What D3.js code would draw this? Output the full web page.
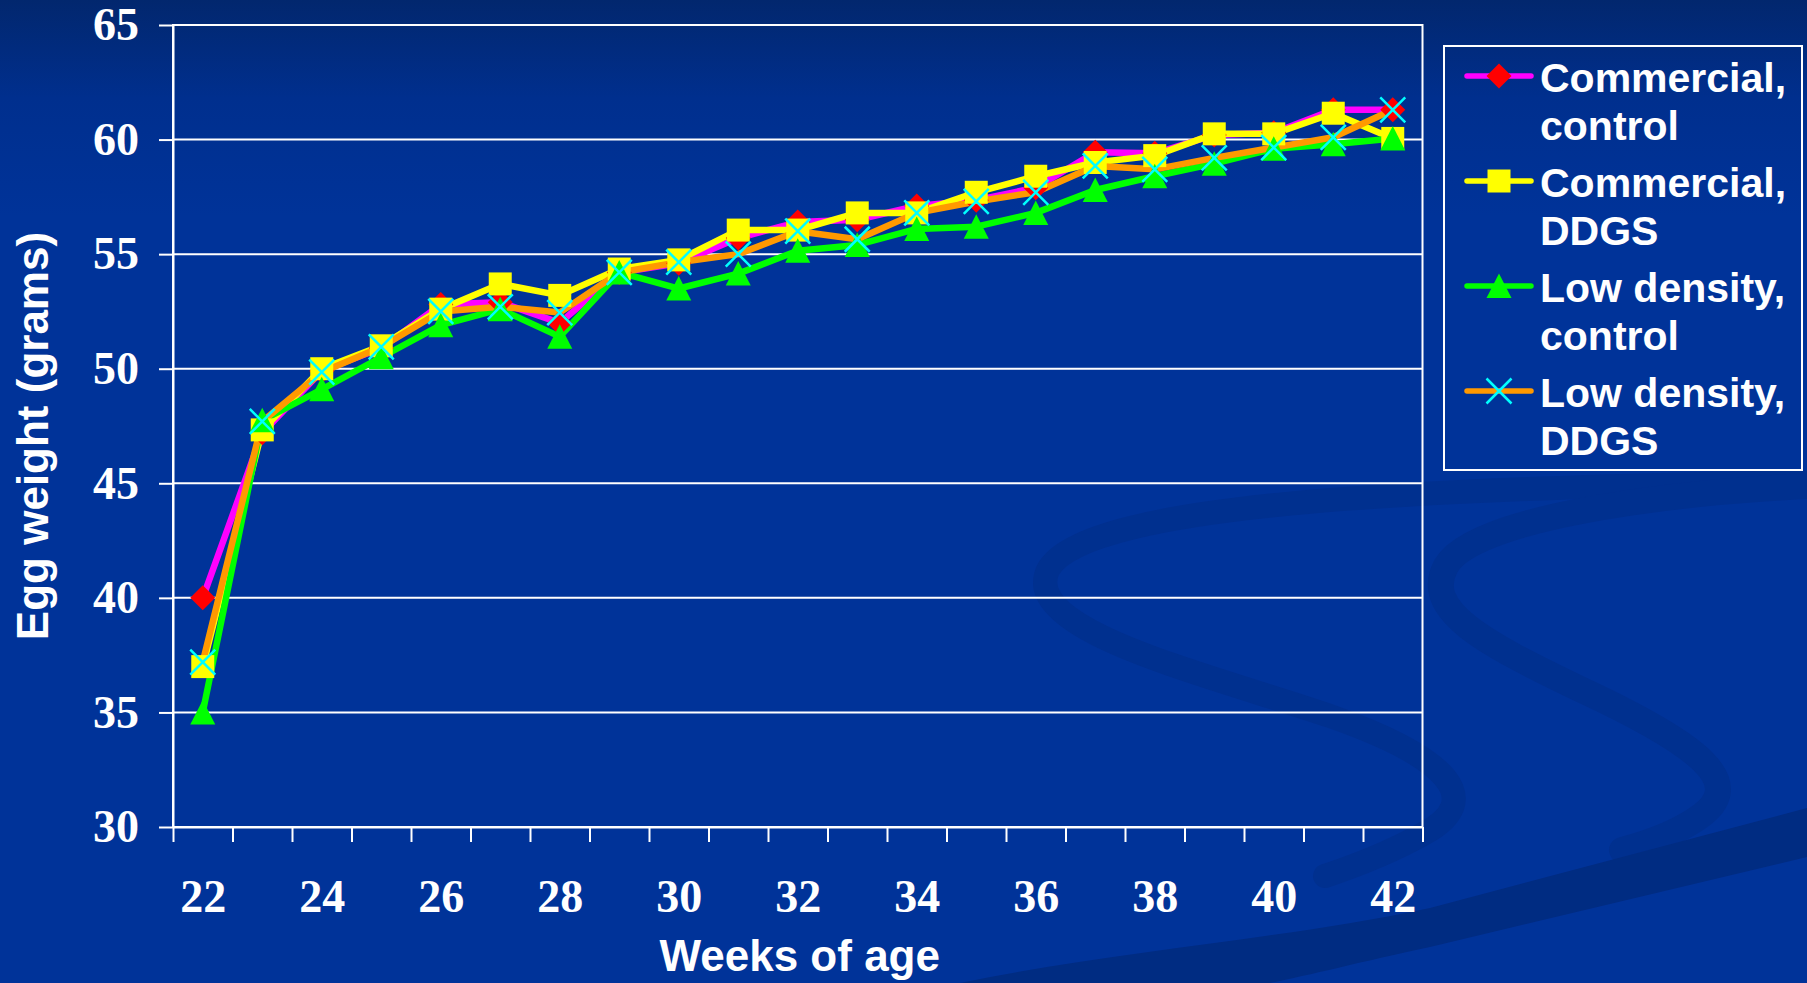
<!DOCTYPE html>
<html>
<head>
<meta charset="utf-8">
<script src="https://cdn.jsdelivr.net/npm/d3@7"></script>
<style>
  body { margin: 0; background: #003399; overflow: hidden; }
  svg { display: block; }
</style>
</head>
<body>
<svg width="1807" height="983"></svg>
<script>
// weeks of age on the category axis
var weeks = [22, 23, 24, 25, 26, 27, 28, 29, 30, 31, 32, 33, 34, 35, 36, 37, 38, 39, 40, 41, 42];
var weekLabels = [22, 24, 26, 28, 30, 32, 34, 36, 38, 40, 42];
var yTicks = [30, 35, 40, 45, 50, 55, 60, 65];

var seriesNames = ['Commercial, control', 'Commercial, DDGS', 'Low density, control', 'Low density, DDGS'];

// egg weight (grams)
var commercialControl = [40.0, 47.2, 49.9, 50.9, 52.8, 52.9, 52.0, 54.2, 54.6, 55.7, 56.4, 56.5, 57.1, 57.35, 57.9, 59.45, 59.4, 60.2, 60.3, 61.3, 61.3];
var commercialDDGS    = [37.0, 47.33, 50.0, 51.0, 52.6, 53.7, 53.2, 54.35, 54.75, 56.05, 56.05, 56.8, 56.8, 57.7, 58.4, 59.0, 59.3, 60.25, 60.25, 61.15, 60.05];
var lowControl        = [35.0, 47.75, 49.1, 50.5, 51.9, 52.6, 51.4, 54.2, 53.5, 54.15, 55.15, 55.4, 56.1, 56.2, 56.8, 57.8, 58.4, 58.95, 59.6, 59.8, 60.05];
var lowDDGS           = [37.2, 47.7, 49.85, 50.95, 52.5, 52.7, 52.45, 54.2, 54.65, 55.0, 56.0, 55.65, 56.8, 57.3, 57.7, 58.85, 58.7, 59.2, 59.65, 60.1, 61.3];

var lineColors = ['#ff00ff', '#ffff00', '#00ff00', '#ff9900'];
var markerTypes = ['diamond', 'square', 'triangle', 'x'];

var series = [commercialControl, commercialDDGS, lowControl, lowDDGS].map(function(vals, i) {
  return {
    name: seriesNames[i],
    color: lineColors[i],
    marker: markerTypes[i],
    values: vals.map(function(v, j) { return { week: weeks[j], v: v }; })
  };
});

var plotL = 173, plotR = 1422.5, plotT = 25, plotB = 827;
var serif = '"Liberation Serif", "Times New Roman", serif';
var sans = '"Liberation Sans", Arial, sans-serif';

const svg = d3.select('svg');

// background with the darker swooshes of the slide template
var defs = svg.append('defs');
var grad = defs.append('linearGradient').attr('id', 'bg').attr('x1', 0).attr('y1', 0).attr('x2', 0).attr('y2', 1);
grad.append('stop').attr('offset', '0%').attr('stop-color', '#02276e');
grad.append('stop').attr('offset', '10%').attr('stop-color', '#002f8e');
grad.append('stop').attr('offset', '22%').attr('stop-color', '#003399');
grad.append('stop').attr('offset', '100%').attr('stop-color', '#003399');
svg.append('rect').attr('width', 1807).attr('height', 983).attr('fill', 'url(#bg)');

var deco = svg.append('g').attr('class', 'deco').attr('fill', 'none').attr('stroke-linecap', 'round');
deco.append('path')
  .attr('d', 'M1807,482 C1450,488 1085,500 1048,570 C1020,630 1200,672 1330,716 C1450,758 1485,800 1425,833 C1395,850 1355,866 1325,876')
  .attr('stroke', '#00308f').attr('stroke-width', 24);
deco.append('path')
  .attr('d', 'M1807,486 C1650,494 1472,520 1446,566 C1422,610 1482,642 1582,690 C1700,745 1745,782 1702,815 C1682,830 1652,842 1622,850')
  .attr('stroke', '#00308f').attr('stroke-width', 26);
deco.append('path')
  .attr('d', 'M960,983 C1120,950 1280,940 1430,908 L1807,808 L1807,857 L1430,947 C1360,962 1310,975 1270,983 Z')
  .attr('fill', '#002c82').attr('stroke', 'none');

const g = svg.append('g');

var x = d3.scaleLinear().domain([weeks[0] - 0.5, weeks[weeks.length - 1] + 0.5]).range([plotL, plotR]);
var y = d3.scaleLinear().domain([30, 65]).range([plotB, plotT]);

// gridlines
g.append('g')
  .attr('class', 'grid')
  .selectAll('line')
  .data(yTicks)
  .enter().append('line')
  .attr('x1', plotL).attr('x2', plotR)
  .attr('y1', function(d) { return y(d); })
  .attr('y2', function(d) { return y(d); })
  .style('stroke', '#ffffff')
  .style('stroke-width', 2);

g.append('rect')
  .attr('x', plotL).attr('y', plotT)
  .attr('width', plotR - plotL).attr('height', plotB - plotT)
  .attr('fill', 'none').attr('stroke', '#ffffff').attr('stroke-width', 2);

// y axis
var yAxis = g.append('g')
  .attr('transform', 'translate(' + plotL + ',0)')
  .call(d3.axisLeft(y).tickValues(yTicks).tickSize(14).tickSizeOuter(0).tickPadding(20));

// x axis: ticks between categories, labels on every other week
var edges = weeks.map(function(w) { return w - 0.5; }).concat([weeks[weeks.length - 1] + 0.5]);
var xTicks = g.append('g')
  .attr('transform', 'translate(0,' + plotB + ')')
  .call(d3.axisBottom(x).tickValues(edges).tickSize(15).tickSizeOuter(0).tickFormat(''));
var xLabels = g.append('g')
  .attr('transform', 'translate(0,' + plotB + ')')
  .call(d3.axisBottom(x).tickValues(weekLabels).tickSize(0).tickPadding(52));
xLabels.select('.domain').remove();

[yAxis, xTicks, xLabels].forEach(function(a) {
  a.selectAll('path, line').style('stroke', '#ffffff').style('stroke-width', 2);
  a.selectAll('text')
    .style('fill', '#ffffff')
    .style('font-family', serif)
    .style('font-weight', 'bold')
    .style('font-size', '46px');
});

// axis titles
g.append('text')
  .attr('x', (plotL + plotR) / 2 + 2)
  .attr('y', 971)
  .attr('text-anchor', 'middle')
  .style('fill', '#ffffff')
  .style('font-family', sans)
  .style('font-weight', 'bold')
  .style('font-size', '44px')
  .text('Weeks of age');

g.append('text')
  .attr('transform', 'translate(48,436) rotate(-90)')
  .attr('text-anchor', 'middle')
  .style('fill', '#ffffff')
  .style('font-family', sans)
  .style('font-weight', 'bold')
  .style('font-size', '44px')
  .text('Egg weight (grams)');

// markers
function markerPath(type, s) {
  // s = scale, 1 for the plot
  if (type == 'diamond') return 'M0,' + (-12.5 * s) + 'L' + (12.5 * s) + ',0L0,' + (12.5 * s) + 'L' + (-12.5 * s) + ',0Z';
  if (type == 'square') return 'M' + (-11.5 * s) + ',' + (-11.5 * s) + 'h' + (23 * s) + 'v' + (23 * s) + 'h' + (-23 * s) + 'Z';
  if (type == 'triangle') return 'M0,' + (-12.5 * s) + 'L' + (12.5 * s) + ',' + (12 * s) + 'L' + (-12.5 * s) + ',' + (12 * s) + 'Z';
  return 'M' + (-12.5 * s) + ',' + (-12.5 * s) + 'L' + (12.5 * s) + ',' + (12.5 * s) + 'M' + (12.5 * s) + ',' + (-12.5 * s) + 'L' + (-12.5 * s) + ',' + (12.5 * s);
}
function markerFill(type) {
  if (type == 'diamond') return '#ff0000';
  if (type == 'square') return '#ffff00';
  if (type == 'triangle') return '#00ff00';
  return 'none';
}

var line = d3.line()
  .x(function(d) { return x(d.week); })
  .y(function(d) { return y(d.v); });

g.append('g')
  .attr('class', 'lines')
  .selectAll('path')
  .data(series)
  .enter().append('path')
  .attr('d', function(d) { return line(d.values); })
  .attr('fill', 'none')
  .attr('stroke', function(d) { return d.color; })
  .attr('stroke-width', 6.5)
  .attr('stroke-linejoin', 'round');

var markerGroups = g.append('g')
  .attr('class', 'markers')
  .selectAll('g')
  .data(series)
  .enter().append('g');

markerGroups.selectAll('path')
  .data(function(d) { return d.values.map(function(p) { return { p: p, type: d.marker }; }); })
  .enter().append('path')
  .attr('transform', function(d) { return 'translate(' + x(d.p.week) + ',' + y(d.p.v) + ')'; })
  .attr('d', function(d) { return markerPath(d.type, 1); })
  .attr('fill', function(d) { return markerFill(d.type); })
  .attr('stroke', function(d) { return d.type == 'x' ? '#00ffff' : 'none'; })
  .attr('stroke-width', 2.5);

// legend
var legend = svg.append('g').attr('class', 'legend');
legend.append('rect')
  .attr('x', 1444).attr('y', 46)
  .attr('width', 358).attr('height', 424)
  .attr('fill', 'none')
  .attr('stroke', '#ffffff')
  .attr('stroke-width', 2);

var items = legend.selectAll('g.item')
  .data(series)
  .enter().append('g')
  .attr('class', 'item')
  .attr('transform', function(d, i) { return 'translate(0,' + (76 + i * 105) + ')'; });

items.append('line')
  .attr('x1', 1467).attr('x2', 1531)
  .attr('stroke', function(d) { return d.color; })
  .attr('stroke-width', 5.5)
  .attr('stroke-linecap', 'round');

items.append('path')
  .attr('transform', 'translate(1499,0)')
  .attr('d', function(d) { return markerPath(d.marker, 1); })
  .attr('fill', function(d) { return markerFill(d.marker); })
  .attr('stroke', function(d) { return d.marker == 'x' ? '#00ffff' : 'none'; })
  .attr('stroke-width', 2.5);

var legendText = items.append('text')
  .attr('x', 1540)
  .style('fill', '#ffffff')
  .style('font-family', sans)
  .style('font-weight', 'bold')
  .style('font-size', '41px');

legendText.append('tspan')
  .attr('x', 1540).attr('y', 16)
  .text(function(d) { return d.name.split(', ')[0] + ','; });
legendText.append('tspan')
  .attr('x', 1540).attr('y', 64)
  .text(function(d) { return d.name.split(', ')[1]; });
</script>
</body>
</html>
